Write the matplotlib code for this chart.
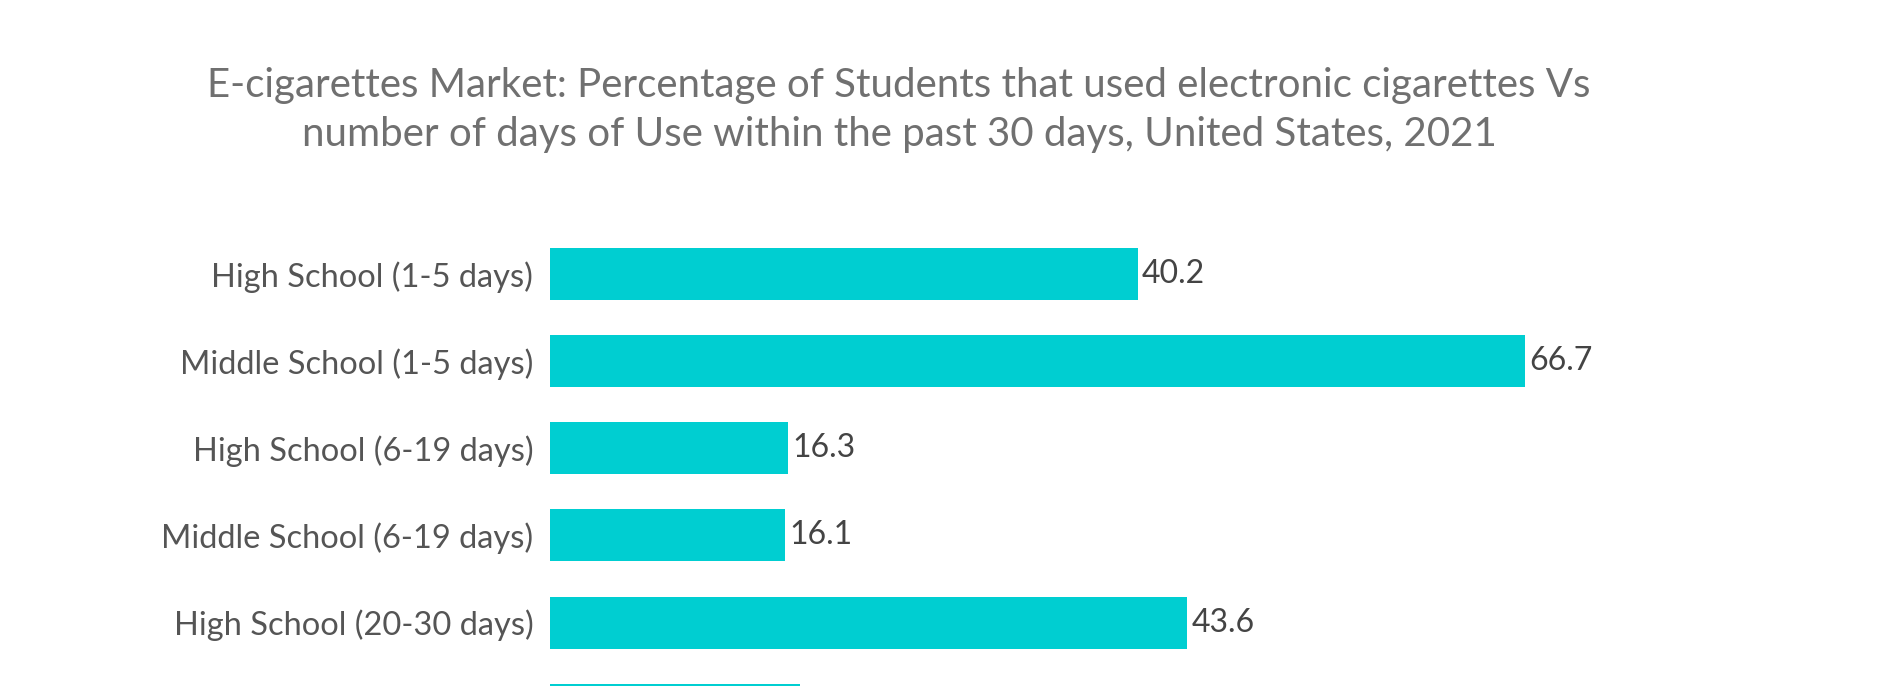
import matplotlib
matplotlib.use("Agg")
import matplotlib.pyplot as plt

plt.rcParams['font.family'] = ['Lato', 'DejaVu Sans']

categories = ["High School (1-5 days)", "Middle School (1-5 days)",
              "High School (6-19 days)", "Middle School (6-19 days)",
              "High School (20-30 days)", "Middle School (20-30 days)"]
values = [40.2, 66.7, 16.3, 16.1, 43.6, 17.1]

bar_color = "#00CED1"

fig = plt.figure(figsize=(18.99, 6.86), dpi=100)
ax = fig.add_axes([0.2896, 0.0, 0.7104, 0.7376])

pos = list(range(len(categories)))
ax.barh(pos, values, height=0.596, color=bar_color)
ax.set_xlim(0, 92.27)
y_bottom = 4.728
ax.set_ylim(y_bottom, -1.0745)

# only the bars whose centre lies inside the frame get labels (last one is cut off)
shown = [p for p in pos if p < y_bottom]
for y in shown:
    ax.text(values[y] + 0.3, y, f"{values[y]}", va="center", ha="left",
            fontsize=23, color="#444444")

ax.set_yticks(shown)
ax.set_yticklabels([categories[p] for p in shown], fontsize=23.5, color="#555555")
ax.tick_params(axis="y", length=0, pad=12)
ax.set_xticks([])
for s in ax.spines.values():
    s.set_visible(False)

fig.text(0.4735, 0.839,
         "E-cigarettes Market: Percentage of Students that used electronic cigarettes Vs\n"
         "number of days of Use within the past 30 days, United States, 2021",
         ha="center", va="center", fontsize=29, color="#707070", linespacing=1.4)

fig.savefig("out.png", dpi=100)
